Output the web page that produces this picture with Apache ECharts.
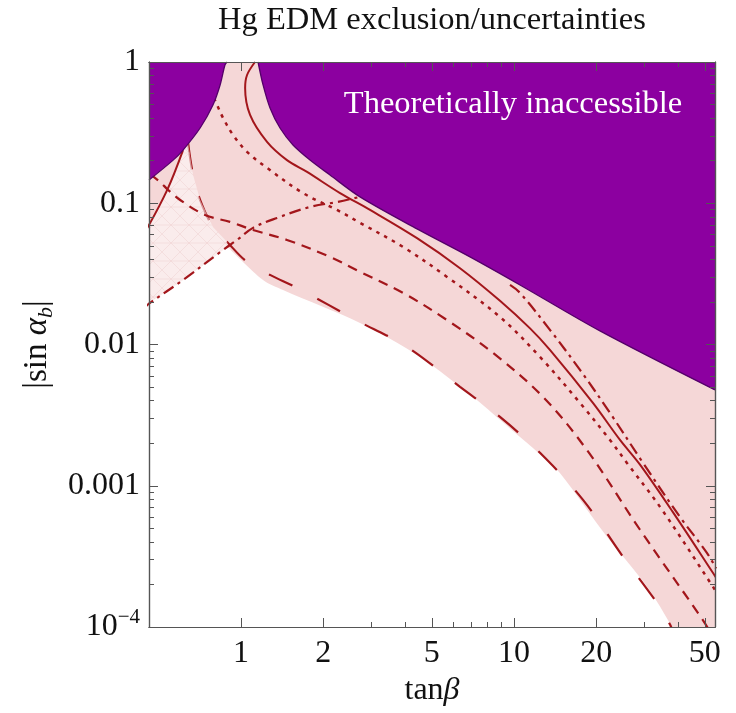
<!DOCTYPE html>
<html>
<head>
<meta charset="utf-8">
<title>Hg EDM exclusion/uncertainties</title>
<script src="https://cdn.jsdelivr.net/npm/echarts@6.0.0/dist/echarts.min.js"></script>
<style>
  html, body { margin: 0; padding: 0; background: #fff; }
  #chart { width: 736px; height: 713px; }
</style>
</head>
<body>
<div id="chart"></div>
<script>
// plot range: x = tan(beta), y = |sin alpha_b|, both on log scale
var xRange = [0.46, 54.5];
var yRange = [1e-4, 1];

// ticks
var xMajor = [1, 2, 5, 10, 20, 50];
var xMajorLabels = ['1', '2', '5', '10', '20', '50'];
var xMinor = [3, 4, 6, 7, 8, 9, 30, 40];
var yMajor = [1e-4, 1e-3, 1e-2, 0.1, 1];
var yMajorLabels = ['10^\u22124', '0.001', '0.01', '0.1', '1'];
var yMinor = [2e-4, 3e-4, 4e-4, 5e-4, 6e-4, 7e-4, 8e-4, 9e-4,
              2e-3, 3e-3, 4e-3, 5e-3, 6e-3, 7e-3, 8e-3, 9e-3,
              0.02, 0.03, 0.04, 0.05, 0.06, 0.07, 0.08, 0.09,
              0.2, 0.3, 0.4, 0.5, 0.6, 0.7, 0.8, 0.9];

// "theoretically inaccessible" boundary  [tanβ, |sin αb|]
var purpleLeft = [[0.46, 0.146], [0.564, 0.202], [0.613, 0.238], [0.708, 0.341], [0.789, 0.496],
                  [0.838, 0.687], [0.873, 0.952], [0.889, 1]];
var purpleRight = [[1.154, 1], [1.204, 0.688], [1.277, 0.4725], [1.389, 0.341], [1.55, 0.2587],
                   [1.789, 0.2025], [2.118, 0.1585], [2.728, 0.1109], [4.413, 0.0658], [6.899, 0.0417],
                   [10.52, 0.0264], [20.65, 0.01248], [54.5, 0.00477]];

// lower edge of the uncertainty band
var bandLeft = [[0.44, 0.0185], [0.46, 0.0197], [0.613, 0.0286], [0.859, 0.0467], [0.896, 0.0491], [0.935, 0.0452]];
var bandRight = [[0.896, 0.0491], [1.204, 0.0286], [1.425, 0.0243], [2.728, 0.0142], [4.525, 0.00817],
                 [7.311, 0.00405], [8.884, 0.00293], [12.77, 0.0016], [14.73, 0.00123], [21.91, 0.000435],
                 [30.71, 0.000193], [37.91, 0.0001], [39.5, 0.00008], [54.5, 0.00003]];

// lighter (hatched) patch on the left
var lightPatch = [[0.46, 0.0738], [0.536, 0.124], [0.613, 0.238], [0.64, 0.265], [0.667, 0.159],
                  [0.708, 0.1055], [0.789, 0.068], [0.889, 0.0532], [0.896, 0.0491], [0.859, 0.0467],
                  [0.613, 0.0286], [0.46, 0.0197]];

// curves
var solidMain = [[1.125, 1], [1.052, 0.809], [1.035, 0.655], [1.079, 0.422], [1.245, 0.272], [1.473, 0.202],
                 [1.745, 0.1666], [2.305, 0.118], [2.969, 0.0897], [4.413, 0.0566], [6.342, 0.0347], [8.884, 0.0204],
                 [11.45, 0.0130], [13.54, 0.00916], [19.46, 0.00386], [24.45, 0.00211], [28.95, 0.00141],
                 [38.21, 0.00065], [53.54, 0.000242], [55, 0.000223]];
var solidLeft = [[0.445, 0.0626], [0.536, 0.124], [0.613, 0.238]];
var dotted = [[0.796, 0.556], [0.817, 0.496], [0.859, 0.402], [0.935, 0.304], [1.052, 0.231], [1.245, 0.178],
              [1.687, 0.118], [2.247, 0.0897], [2.728, 0.0727], [3.92, 0.0491], [5.683, 0.0301], [8.884, 0.01567],
              [12.45, 0.00817], [17.45, 0.00386], [22.47, 0.00211], [25.93, 0.00145], [34.27, 0.000709],
              [53.54, 0.000193], [55, 0.000177]];
var dashed = [[0.464, 0.161], [0.505, 0.1415], [0.541, 0.124], [0.598, 0.1055], [0.738, 0.0826], [0.911, 0.0738],
              [1.106, 0.0647], [1.473, 0.055], [2.118, 0.0417], [2.728, 0.0327], [3.92, 0.0232], [5.683, 0.0149],
              [8.37, 0.00873], [12.77, 0.00426], [18.5, 0.00179], [28.95, 0.000488], [49.2, 0.000112],
              [53.1, 0.0000879]];
var longDashed = [[0.64, 0.265], [0.667, 0.159], [0.708, 0.1055], [0.789, 0.068], [0.889, 0.0532],
                  [1.052, 0.0384], [1.277, 0.0311], [1.603, 0.0252], [2.728, 0.0144], [4.055, 0.00962],
                  [6.342, 0.00501], [8.884, 0.00307], [12.45, 0.00171], [17.9, 0.000794], [25.09, 0.000314],
                  [33.41, 0.000148], [37.3, 0.000104], [39, 0.00008]];
var dashDotLeft = [[0.44, 0.018], [0.464, 0.0197], [0.613, 0.0286], [0.859, 0.0467], [0.967, 0.055],
                   [1.106, 0.0669], [1.355, 0.0787], [1.79, 0.0942], [2.247, 0.102], [2.728, 0.111], [3.0, 0.116]];
var dashDotRight = [[9.67, 0.0264], [10.52, 0.0232], [13.54, 0.0127], [17.45, 0.00661], [22.47, 0.00328],
                    [29.7, 0.00145], [40.55, 0.000602], [50.9, 0.000335], [55, 0.00026]];

var serif = "'Liberation Serif', 'Times New Roman', serif";
var red = '#a3161b';
var purple = '#8c00a0';
var pink = '#f5d7d7';
var frame = '#555';

var lg = Math.log10;
function toLog(list) {
  return list.map(function (p) { return [lg(p[0]), lg(p[1])]; });
}
function labelOf(ticks, labels, v) {
  for (var i = 0; i < ticks.length; i++) {
    if (Math.abs(lg(ticks[i]) - v) < 1e-6) return labels[i];
  }
  return '';
}

// faint cross-hatch used on the light patch
function hatch() {
  var c = document.createElement('canvas');
  c.width = 18; c.height = 18;
  var g = c.getContext('2d');
  g.fillStyle = 'rgba(255,255,255,0.52)';
  g.fillRect(0, 0, 18, 18);
  g.strokeStyle = 'rgba(236,200,200,0.4)';
  g.lineWidth = 1;
  g.beginPath();
  g.moveTo(0, 18); g.lineTo(18, 0);
  g.moveTo(0, 0); g.lineTo(18, 18);
  g.moveTo(0, 9); g.lineTo(18, 9);
  g.stroke();
  return c;
}

function xAx(pos, ticks, len, main) {
  return {
    type: 'value', position: pos, min: lg(xRange[0]), max: lg(xRange[1]), z: 10,
    axisLine: { show: true, onZero: false, lineStyle: { color: frame, width: 1.2 } },
    axisTick: { show: true, inside: true, length: len, customValues: ticks.map(lg), lineStyle: { color: frame, width: 1 } },
    axisLabel: main ? {
      customValues: xMajor.map(lg), margin: 11, fontFamily: serif, fontSize: 32, color: '#111',
      formatter: function (v) { return labelOf(xMajor, xMajorLabels, v); }
    } : { show: false },
    splitLine: { show: false },
    name: main ? '{t|tan}{i|\u03b2}' : '',
    nameLocation: 'middle', nameGap: 47,
    nameTextStyle: {
      rich: {
        t: { fontFamily: serif, fontSize: 32, color: '#111' },
        i: { fontFamily: serif, fontSize: 32, fontStyle: 'italic', color: '#111' }
      }
    }
  };
}

function yAx(pos, ticks, len, main) {
  return {
    type: 'value', position: pos, min: lg(yRange[0]), max: lg(yRange[1]), z: 10,
    axisLine: { show: true, onZero: false, lineStyle: { color: frame, width: 1.2 } },
    axisTick: { show: true, inside: true, length: len, customValues: ticks.map(lg), lineStyle: { color: frame, width: 1 } },
    axisLabel: main ? {
      customValues: yMajor.map(lg), margin: 9, color: '#111',
      formatter: function (v) {
        var s = labelOf(yMajor, yMajorLabels, v);
        if (s.indexOf('^') >= 0) {
          var parts = s.split('^');
          return '{m|' + parts[0] + '}{sup|' + parts[1] + '}';
        }
        return '{m|' + s + '}';
      },
      rich: {
        m: { fontFamily: serif, fontSize: 32, lineHeight: 40, verticalAlign: 'middle', color: '#111' },
        sup: { fontFamily: serif, fontSize: 21, lineHeight: 18, verticalAlign: 'top', color: '#111' }
      }
    } : { show: false },
    splitLine: { show: false },
    name: main ? '{t||sin }{i|\u03b1}{b|b}{t||}' : '',
    nameLocation: 'middle', nameGap: 88, nameRotate: 90,
    nameTextStyle: {
      rich: {
        t: { fontFamily: serif, fontSize: 33, lineHeight: 40, verticalAlign: 'middle', color: '#111' },
        i: { fontFamily: serif, fontSize: 33, lineHeight: 40, verticalAlign: 'middle', fontStyle: 'italic', color: '#111' },
        b: { fontFamily: serif, fontSize: 22, lineHeight: 20, verticalAlign: 'bottom', fontStyle: 'italic', color: '#111' }
      }
    }
  };
}

function area(list, color, z, smooth, edge) {
  return {
    type: 'line', data: toLog(list), z: z, smooth: smooth, showSymbol: false, silent: true,
    lineStyle: edge ? { color: edge, width: 1.3 } : { width: 0, opacity: 0 },
    areaStyle: { color: color, opacity: 1, origin: 'end' }
  };
}

function curve(list, dash, z, width) {
  return {
    type: 'line', data: toLog(list), z: z, smooth: 0.35, showSymbol: false, silent: true,
    lineStyle: { color: red, width: width || 2, type: dash }
  };
}

var chart = echarts.init(document.getElementById('chart'));

chart.setOption({
  animation: false,
  backgroundColor: '#fff',
  title: {
    text: 'Hg EDM exclusion/uncertainties',
    left: 432, top: 4, padding: 0, textAlign: 'center',
    textStyle: { fontFamily: serif, fontSize: 32.5, fontWeight: 'normal', color: '#111' }
  },
  grid: { left: 149, right: 21, top: 62, bottom: 86 },
  xAxis: [
    xAx('bottom', xMajor, 9, true),
    xAx('bottom', xMinor, 5, false),
    xAx('top', xMajor, 9, false),
    xAx('top', xMinor, 5, false)
  ],
  yAxis: [
    yAx('left', yMajor, 9, true),
    yAx('left', yMinor, 5, false),
    yAx('right', yMajor, 9, false),
    yAx('right', yMinor, 5, false)
  ],
  graphic: [{
    type: 'text', x: 513, y: 104, z: 100, silent: true,
    style: {
      text: 'Theoretically inaccessible', fill: '#fff', font: '32.5px ' + serif,
      align: 'center', verticalAlign: 'middle'
    }
  }],
  series: [
    area(bandLeft, pink, 1, false),
    area(bandRight, pink, 1, 0.3),
    curve(longDashed, [26, 28], 2, 2.2),
    {
      type: 'custom', z: 3, silent: true, data: toLog(lightPatch),
      renderItem: function (params, api) {
        if (params.dataIndex !== 0) return null;
        var pts = lightPatch.map(function (p) { return api.coord([lg(p[0]), lg(p[1])]); });
        return {
          type: 'polygon', shape: { points: pts },
          style: { fill: { image: hatch(), repeat: 'repeat' } }
        };
      }
    },
    curve(solidMain, 'solid', 4),
    curve(solidLeft, 'solid', 4),
    curve(dotted, [3.5, 5.5], 4, 2.5),
    curve(dashed, [10, 7], 4, 2.2),
    curve(dashDotLeft, [12, 5, 3, 5], 4, 2.2),
    curve(dashDotRight, [12, 5, 3, 5], 4, 2.2),
    area(purpleLeft, purple, 5, 0.3, '#55006a'),
    area(purpleRight, purple, 5, 0.3, '#55006a')
  ]
});

window.onresize = function () {
  chart.resize();
};
</script>
</body>
</html>
